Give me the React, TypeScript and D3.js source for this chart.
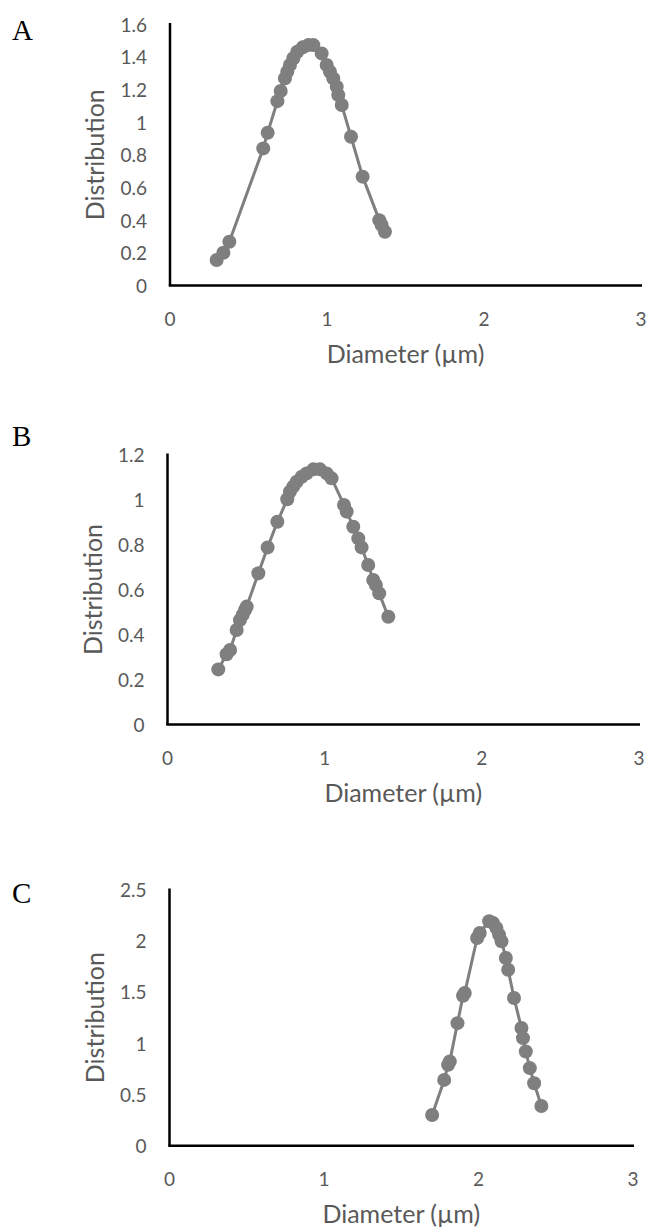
import * as d3 from "d3";

// panel A
const diamA = [0.297, 0.34, 0.378, 0.594, 0.622, 0.684, 0.705, 0.732, 0.747, 0.764, 0.786, 0.811, 0.845, 0.881, 0.913, 0.966, 0.998, 1.019, 1.04, 1.062, 1.072, 1.094, 1.153, 1.227, 1.333, 1.348, 1.369];
const distA = [0.156, 0.2, 0.268, 0.839, 0.935, 1.128, 1.19, 1.267, 1.308, 1.349, 1.39, 1.43, 1.457, 1.471, 1.471, 1.42, 1.349, 1.308, 1.267, 1.216, 1.165, 1.104, 0.91, 0.666, 0.4, 0.37, 0.329];
const yTicksA = [0, 0.2, 0.4, 0.6, 0.8, 1, 1.2, 1.4, 1.6];

// panel B
const diamB = [0.323, 0.376, 0.398, 0.44, 0.461, 0.478, 0.493, 0.504, 0.578, 0.637, 0.699, 0.762, 0.779, 0.8, 0.822, 0.854, 0.885, 0.928, 0.97, 1.013, 1.044, 1.123, 1.14, 1.182, 1.214, 1.235, 1.277, 1.309, 1.326, 1.347, 1.405];
const distB = [0.245, 0.312, 0.331, 0.42, 0.464, 0.487, 0.509, 0.524, 0.672, 0.787, 0.901, 1.001, 1.035, 1.057, 1.079, 1.101, 1.116, 1.134, 1.134, 1.116, 1.094, 0.976, 0.946, 0.879, 0.827, 0.787, 0.709, 0.642, 0.62, 0.583, 0.479];
const yTicksB = [0, 0.2, 0.4, 0.6, 0.8, 1, 1.2];

// panel C
const diamC = [1.7, 1.778, 1.803, 1.814, 1.864, 1.9, 1.911, 1.991, 2.008, 2.069, 2.094, 2.116, 2.133, 2.149, 2.177, 2.192, 2.23, 2.278, 2.288, 2.306, 2.332, 2.36, 2.407];
const distC = [0.3, 0.642, 0.789, 0.821, 1.196, 1.463, 1.49, 2.027, 2.076, 2.19, 2.174, 2.125, 2.06, 1.994, 1.832, 1.717, 1.441, 1.148, 1.05, 0.919, 0.757, 0.61, 0.388];
const yTicksC = [0, 0.5, 1, 1.5, 2, 2.5];

const xTicks = [0, 1, 2, 3];
const xTitle = "Diameter (µm)";
const yTitle = "Distribution";

const GRAY = "#7f7f7f";
const TEXT = "#595959";
const FONT = "Lato, 'Open Sans', sans-serif";

type PanelProps = {
  letter: string;
  diam: number[];
  dist: number[];
  yTicks: number[];
  left: number;
  right: number;
  top: number;
  base: number;
  letterY: number;
};

function Panel({ letter, diam, dist, yTicks, left, right, top, base, letterY }: PanelProps) {
  const x = d3.scaleLinear().domain([0, 3]).range([left, right]);
  const y = d3.scaleLinear().domain([0, d3.max(yTicks) ?? 1]).range([base, top]);
  const pts = diam.map((d, i) => [d, dist[i]] as [number, number]);
  const line = d3
    .line<[number, number]>()
    .x((d) => x(d[0]))
    .y((d) => y(d[1]));

  return (
    <g>
      <text x={12} y={letterY} fontFamily="'Liberation Serif', 'Times New Roman', serif" fontSize={29} fill="#000">
        {letter}
      </text>

      {/* y tick labels */}
      {yTicks.map((t) => (
        <text key={t} x={left - 23} y={y(t)} textAnchor="end" dominantBaseline="central" fontFamily={FONT} fontSize={19} fill={TEXT}>
          {String(t)}
        </text>
      ))}
      {/* x tick labels */}
      {xTicks.map((t) => (
        <text key={t} x={x(t)} y={base + 33} textAnchor="middle" dominantBaseline="central" fontFamily={FONT} fontSize={19} fill={TEXT}>
          {String(t)}
        </text>
      ))}

      <text
        transform={`translate(${left - 76}, ${(top + base) / 2}) rotate(-90)`}
        textAnchor="middle"
        dominantBaseline="central"
        fontFamily={FONT}
        fontSize={25}
        fill={TEXT}
      >
        {yTitle}
      </text>
      <text x={(left + right) / 2} y={base + 77} textAnchor="middle" fontFamily={FONT} fontSize={25} fill={TEXT}>
        {xTitle}
      </text>

      {/* axes */}
      <line x1={left} x2={left} y1={top - 1} y2={base} stroke="#000" strokeWidth={2.5} />
      <line x1={left - 1.25} x2={right + 1} y1={base} y2={base} stroke="#000" strokeWidth={2.5} />

      <path d={line(pts) ?? ""} fill="none" stroke={GRAY} strokeWidth={3} strokeLinejoin="round" />
      {pts.map((p, i) => (
        <circle key={i} cx={x(p[0])} cy={y(p[1])} r={7} fill={GRAY} />
      ))}
    </g>
  );
}

export default function App() {
  return (
    <svg width={648} height={1232} style={{ position: "absolute", left: 0, top: 0, background: "#fff" }}>
      <Panel letter="A" diam={diamA} dist={distA} yTicks={yTicksA} left={170} right={641} top={24} base={285.5} letterY={40} />
      <Panel letter="B" diam={diamB} dist={distB} yTicks={yTicksB} left={167.5} right={639} top={454.5} base={724.5} letterY={446} />
      <Panel letter="C" diam={diamC} dist={distC} yTicks={yTicksC} left={169.5} right={633} top={889.5} base={1145.7} letterY={903} />
    </svg>
  );
}
